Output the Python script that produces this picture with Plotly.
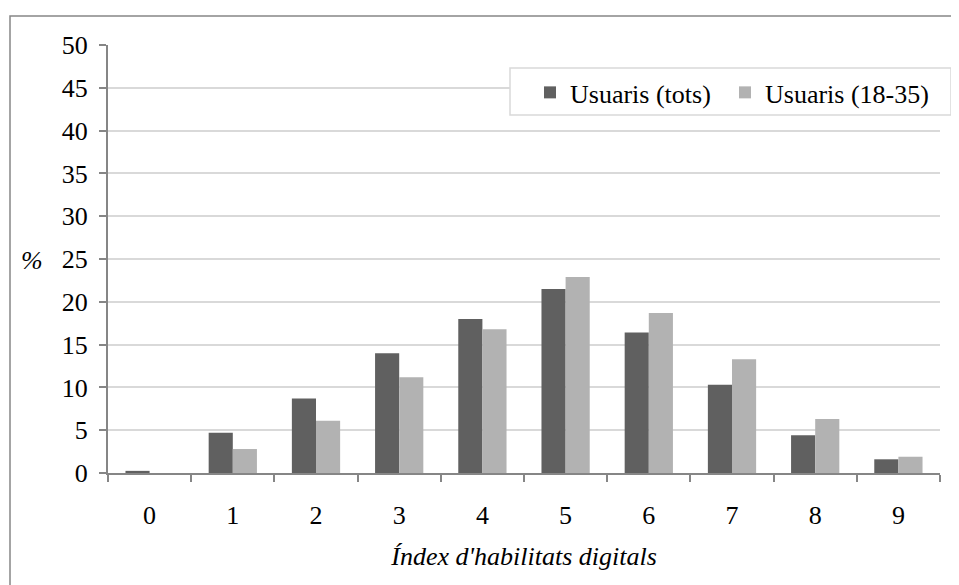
import plotly.graph_objects as go

categories = ["0", "1", "2", "3", "4", "5", "6", "7", "8", "9"]
usuaris_tots = [0.25, 4.7, 8.7, 14.0, 18.0, 21.5, 16.4, 10.3, 4.4, 1.6]
usuaris_18_35 = [0.0, 2.8, 6.1, 11.2, 16.8, 22.9, 18.7, 13.3, 6.3, 1.9]
y_ticks = [0, 5, 10, 15, 20, 25, 30, 35, 40, 45, 50]

FONT = "Liberation Serif"
FS = 26
OFF = 8  # page body margin
W, H = 959 - OFF, 585 - OFF
# target screen coords of plot area: x 108..940, y 45..473.5
L = 108 - OFF
R = W - (940 - OFF)
T = 45 - OFF
B = H - (473.5 - OFF)

fig = go.Figure()
fig.add_trace(go.Bar(x=categories, y=usuaris_tots, name="Usuaris (tots)",
                     marker=dict(color="#606060", line=dict(width=0)),
                     legend="legend"))
fig.add_trace(go.Bar(x=categories, y=usuaris_18_35, name="Usuaris (18-35)",
                     marker=dict(color="#b2b2b2", line=dict(width=0)),
                     legend="legend2"))

pw = W - L - R
ph = H - T - B

def px_x(p):
    return (p - OFF - L) / pw

def px_y(p):
    return (H - B - (p - OFF)) / ph

legend_common = dict(orientation="h", xanchor="left", yanchor="top", borderwidth=0,
                     font=dict(family=FONT, size=FS, color="black"),
                     itemwidth=30, bgcolor="rgba(0,0,0,0)")

fig.update_layout(
    width=W, height=H,
    margin=dict(l=L, r=R, t=T, b=B, autoexpand=False),
    paper_bgcolor="white", plot_bgcolor="white",
    barmode="group", bargap=0.42, bargroupgap=0,
    font=dict(family=FONT, size=FS, color="black"),
    showlegend=True,
    legend=dict(x=px_x(530), y=px_y(69), **legend_common),
    legend2=dict(x=px_x(725), y=px_y(69), **legend_common),
    xaxis=dict(type="category", showline=True, linecolor="#868686", linewidth=2,
               ticks="outside", tickson="boundaries", ticklen=7, tickwidth=1.5,
               tickcolor="#868686", showgrid=False, ticklabelstandoff=18,
               tickfont=dict(family=FONT, size=FS),
               title=dict(text="Índex d'habilitats digitals",
                          font=dict(family=FONT, size=FS, style="italic"),
                          standoff=18),
               fixedrange=True),
    yaxis=dict(range=[0, 50], tickvals=y_ticks, showline=True, linecolor="#868686",
               linewidth=2, ticks="outside", ticklen=7, tickwidth=1.5,
               tickcolor="#868686", showgrid=True, gridcolor="#d9d9d9", gridwidth=1.5,
               zeroline=False, ticklabelstandoff=6,
               tickfont=dict(family=FONT, size=FS), fixedrange=True),
    annotations=[dict(text="%", xref="paper", yref="paper", x=px_x(32), y=px_y(261),
                      showarrow=False, xanchor="center", yanchor="middle",
                      font=dict(family=FONT, size=FS, style="italic"))],
    shapes=[
        dict(type="rect", xref="paper", yref="paper",
             x0=px_x(10), x1=px_x(980), y0=px_y(600), y1=px_y(16),
             line=dict(color="#868686", width=1.5), layer="below"),
        dict(type="rect", xref="paper", yref="paper",
             x0=px_x(510), x1=px_x(951), y0=px_y(115), y1=px_y(68),
             line=dict(color="#d9d9d9", width=1.5), fillcolor="white", layer="above"),
    ],
)

fig.write_html("out.html")
